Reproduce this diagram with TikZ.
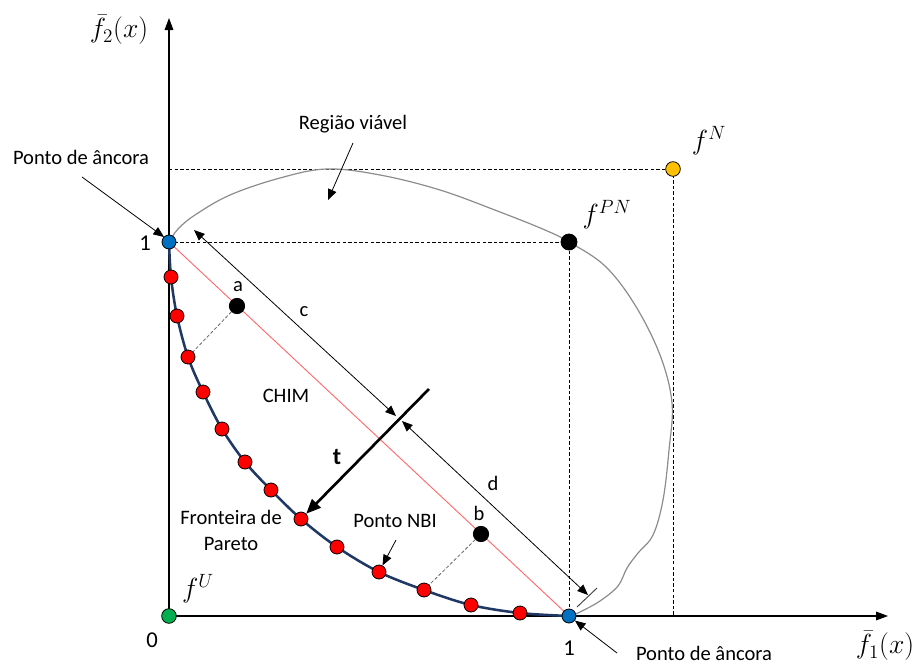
\documentclass[tikz,border=0pt]{standalone}
\usepackage{fontspec}
\setmainfont{Carlito}
\usetikzlibrary{arrows.meta}
\definecolor{navy}{HTML}{203864}
\definecolor{dotred}{HTML}{FF0000}
\definecolor{dotblue}{HTML}{0070C0}
\definecolor{dotgreen}{HTML}{00B050}
\definecolor{dotyellow}{HTML}{FFC000}
\definecolor{chim}{HTML}{FF6B6B}
\definecolor{region}{HTML}{8C8C8C}
\begin{document}
\begin{tikzpicture}[x=0.75pt,y=-0.75pt,
  dot/.style={circle,draw=black,line width=0.6pt,minimum size=10.5pt,inner sep=0pt},
  reddot/.style={dot,fill=dotred},
  bigdot/.style={dot,fill=black,minimum size=11.5pt},
  txt/.style={font=\fontsize{15.4}{18}\selectfont,inner sep=0pt},
  mth/.style={font=\fontsize{20}{24}\selectfont,inner sep=0pt},
  axlbl/.style={font=\fontsize{22}{26}\selectfont,inner sep=0pt},
  axis/.style={line width=0.8pt,-{Triangle[length=9pt,width=6.5pt]}},
  guide/.style={line width=0.6pt,dash pattern=on 2.6pt off 1.6pt},
  pointer/.style={line width=0.6pt,-{Triangle[length=8pt,width=6.5pt]}},
  dim/.style={line width=0.6pt,{Triangle[length=8pt,width=6.5pt]}-{Triangle[length=8pt,width=6.5pt]}}]
\useasboundingbox (0,0) rectangle (918,664);

% coordinates
\coordinate (O) at (169,616);
\coordinate (ytop) at (169,18);
\coordinate (xend) at (888,616);
\coordinate (yN) at (169,169);
\coordinate (xN) at (673,616);
\coordinate (xPN) at (569,616);

% axes
\draw[axis] (O) -- (ytop);
\draw[axis] (O) -- (xend);

% dashed guides
\draw[guide] (yN) -- (673,169) -- (xN);
\draw[guide] (169,242) -- (569,242) -- (xPN);

% feasible region boundary
\draw[region,line width=0.9pt] plot[smooth,tension=0.6] coordinates {
 (169,242) (178,229) (195,215) (230,195) (280,178) (327,169) (380,175)
 (440,190) (500,212) (545,230) (569,242) (605,266) (635,305) (660,355)
 (672,403) (669,450) (663,500) (653,535) (638,553) (627,568) (618,586)
 (600,601) (582,611) (571,616)};

% CHIM line
\draw[chim,line width=0.7pt] (169,242) -- (569,616);

% Pareto front
\draw[navy,line width=1.9pt] plot[smooth,tension=0.55] coordinates {
 (169,242) (171,277) (177,316) (188,357) (203,392) (222,429) (245,462)
 (271,490) (301,519) (337,547) (379,572) (424,590) (471,605) (520,613) (569,616)};

% points
\node[dot,fill=dotblue] (anc1) at (169,242) {};
\node[dot,fill=dotblue] (anc2) at (569,616) {};
\node[dot,fill=dotgreen,minimum size=11pt] (fU) at (169,616) {};
\node[dot,fill=dotyellow,minimum size=11pt] (fN) at (673,169) {};
\node[bigdot,minimum size=12pt] (fPN) at (569,242) {};
\node[reddot] (p1) at (171,277) {};
\node[reddot] (p2) at (177,316) {};
\node[reddot] (p3) at (188,357) {};
\node[reddot] (p4) at (203,392) {};
\node[reddot] (p5) at (222,429) {};
\node[reddot] (p6) at (245,462) {};
\node[reddot] (p7) at (271,490) {};
\node[reddot] (p8) at (301,519) {};
\node[reddot] (p9) at (337,547) {};
\node[reddot] (p10) at (379,572) {};
\node[reddot] (p11) at (424,590) {};
\node[reddot] (p12) at (471,605) {};
\node[reddot] (p13) at (520,613) {};
\node[bigdot] (a) at (237,306) {};
\node[bigdot] (b) at (481,534) {};

% projection links
\draw[gray!80!black,line width=0.6pt,dash pattern=on 2.5pt off 1.5pt] (a) -- (p3);
\draw[gray!80!black,line width=0.6pt,dash pattern=on 2.5pt off 1.5pt] (b) -- (p11);

% c and d dimension arrows
\coordinate (c1) at (194,230);
\coordinate (c2) at (396,416);
\coordinate (d1) at (402,421);
\coordinate (d2) at (588,595);
\draw[dim] (c1) -- (c2);
\draw[dim] (d1) -- (d2);
\coordinate (tk1) at (577,607);
\coordinate (tk2) at (597,588);
\draw[black!75,line width=0.7pt] (tk1) -- (tk2);

% t arrow
\coordinate (t0) at (429,389);
\draw[line width=2pt,-{Triangle[length=11pt,width=9pt]}] (t0) -- (p8);

% labels
\node[axlbl] (lf2) at (119,30) {$\bar{f}_2(x)$};
\node[axlbl] (lf1) at (885,646) {$\bar{f}_1(x)$};
\node[txt,font=\fontsize{17}{20}\selectfont] (one1) at (145,243) {1};
\node[txt,font=\fontsize{17}{20}\selectfont] (one2) at (569,648) {1};
\node[txt,font=\fontsize{17}{20}\selectfont] (zero) at (152,640) {0};
\node[mth] (lfU) at (198,589) {$f^{U}$};
\node[mth] (lfN) at (709,141) {$f^{N}$};
\node[mth] (lfPN) at (607,215) {$f^{PN}$};
\node[txt] (lanc1) at (81,157) {Ponto de âncora};
\node[txt] (lanc2) at (704,653) {Ponto de âncora};
\node[txt] (lreg) at (353,124) {Região viável};
\node[txt] (lchim) at (286,396) {CHIM};
\node[txt] (lc) at (304,312) {c};
\node[txt] (ld) at (493,483) {d};
\node[txt] (la) at (238,287) {a};
\node[txt] (lb) at (479,513) {b};
\node[txt,font=\fontsize{18}{20}\selectfont\bfseries] (lt) at (337,457) {t};
\node[txt,align=center,font=\fontsize{15.4}{19.5}\selectfont] (lfront) at (231,530) {Fronteira de\\Pareto};
\node[txt] (lnbi) at (395,521) {Ponto NBI};

% pointer arrows
\coordinate (pa1) at (82,177);
\coordinate (pa1e) at (164,237);
\draw[pointer] (pa1) -- (pa1e);
\coordinate (pr1) at (353,143);
\coordinate (pr1e) at (328,200);
\draw[pointer] (pr1) -- (pr1e);
\coordinate (pn1) at (396,540);
\draw[pointer] (pn1) -- (p10);
\coordinate (pb1) at (617,653);
\draw[pointer] (pb1) -- (anc2);
\end{tikzpicture}
\end{document}
